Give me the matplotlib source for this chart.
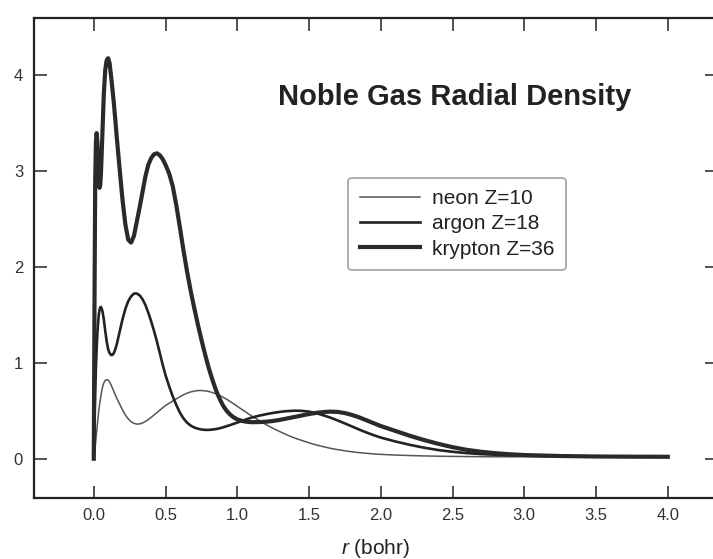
import matplotlib
matplotlib.use('Agg')
import matplotlib.pyplot as plt

plt.rcParams['font.family'] = ['Liberation Sans', 'DejaVu Sans']
plt.rcParams['mathtext.fontset'] = 'custom'
plt.rcParams['mathtext.rm'] = 'Liberation Sans'
plt.rcParams['mathtext.it'] = 'Liberation Sans:italic'

# radius (bohr)
r = [0.0, 0.005, 0.01, 0.015, 0.02, 0.025, 0.03, 0.035, 0.04, 0.045, 0.05,
     0.06, 0.07, 0.08, 0.09, 0.10, 0.11, 0.12, 0.13, 0.14, 0.15, 0.16,
     0.18, 0.20, 0.22, 0.24, 0.26, 0.28, 0.30, 0.32, 0.34, 0.36, 0.38, 0.40,
     0.42, 0.44, 0.46, 0.48, 0.50,
     0.525, 0.55, 0.575, 0.60, 0.625, 0.65, 0.675, 0.70, 0.725, 0.75, 0.775, 0.80,
     0.825, 0.85, 0.875, 0.90, 0.925, 0.95, 0.975, 1.0, 1.025, 1.05, 1.075, 1.10,
     1.15, 1.20, 1.25, 1.30, 1.35, 1.40, 1.45, 1.50, 1.55, 1.60, 1.65, 1.70,
     1.75, 1.80, 1.85, 1.90, 1.95, 2.0,
     2.1, 2.2, 2.3, 2.4, 2.5, 2.6, 2.7, 2.8, 2.9, 3.0,
     3.25, 3.5, 3.75, 4.0]

neon = [0.0, 0.05, 0.12, 0.20, 0.28, 0.36, 0.43, 0.50, 0.56, 0.61, 0.66,
        0.74, 0.79, 0.815, 0.822, 0.82, 0.80, 0.77, 0.735, 0.70, 0.665, 0.63,
        0.57, 0.51, 0.455, 0.415, 0.385, 0.368, 0.36, 0.362, 0.372, 0.388, 0.408, 0.43,
        0.455, 0.48, 0.505, 0.53, 0.553,
        0.577, 0.60, 0.623, 0.645, 0.665, 0.682, 0.695, 0.704, 0.709, 0.71, 0.707, 0.70,
        0.69, 0.676, 0.66, 0.64, 0.62, 0.596, 0.571, 0.546, 0.52, 0.495, 0.47, 0.445,
        0.40, 0.355, 0.315, 0.28, 0.245, 0.215, 0.19, 0.165, 0.143, 0.125, 0.108, 0.094,
        0.082, 0.072, 0.063, 0.056, 0.05, 0.045,
        0.038, 0.033, 0.029, 0.026, 0.024, 0.022, 0.021, 0.02, 0.02, 0.02,
        0.02, 0.02, 0.02, 0.02]

argon = [0.0, 0.35, 0.7, 0.95, 1.15, 1.3, 1.42, 1.5, 1.55, 1.575, 1.58,
         1.54, 1.45, 1.33, 1.22, 1.14, 1.10, 1.08, 1.08, 1.10, 1.14, 1.19,
         1.32, 1.45, 1.56, 1.64, 1.69, 1.72, 1.72, 1.70, 1.66, 1.60, 1.52, 1.43,
         1.33, 1.22, 1.10, 0.98, 0.87,
         0.755, 0.65, 0.56, 0.48, 0.42, 0.375, 0.345, 0.325, 0.312, 0.304, 0.30, 0.30,
         0.303, 0.308, 0.316, 0.326, 0.338, 0.35, 0.363, 0.376, 0.39, 0.403, 0.416, 0.428,
         0.447, 0.463, 0.477, 0.488, 0.496, 0.50, 0.498, 0.49, 0.474, 0.452, 0.427, 0.398,
         0.367, 0.335, 0.303, 0.273, 0.245, 0.22,
         0.18, 0.145, 0.115, 0.09, 0.072, 0.058, 0.048, 0.041, 0.036, 0.032,
         0.026, 0.022, 0.021, 0.02]

krypton = [0.0, 1.6, 2.9, 3.3, 3.39, 3.3, 3.1, 2.9, 2.82, 2.85, 2.97,
           3.38, 3.8, 4.05, 4.15, 4.17, 4.12, 3.99, 3.85, 3.70, 3.53, 3.35,
           3.02, 2.70, 2.44, 2.28, 2.25, 2.32, 2.47, 2.62, 2.78, 2.94, 3.06, 3.13,
           3.17, 3.18, 3.16, 3.12, 3.06,
           2.97, 2.84, 2.64, 2.41, 2.17, 1.95, 1.75, 1.57, 1.40, 1.24, 1.09, 0.95,
           0.83, 0.72, 0.63, 0.555, 0.50, 0.46, 0.43, 0.41, 0.397, 0.388, 0.383, 0.38,
           0.381, 0.385, 0.393, 0.405, 0.42, 0.435, 0.45, 0.465, 0.477, 0.486, 0.49, 0.487,
           0.475, 0.455, 0.43, 0.40, 0.37, 0.34,
           0.29, 0.24, 0.195, 0.155, 0.12, 0.092, 0.072, 0.057, 0.046, 0.038,
           0.028, 0.023, 0.021, 0.02]

x_ticks = [0.0, 0.5, 1.0, 1.5, 2.0, 2.5, 3.0, 3.5, 4.0]
y_ticks = [0, 1, 2, 3, 4]

fig = plt.figure(figsize=(7.13, 5.59), dpi=100)
ax = fig.add_axes([0.048, 0.109, 0.957, 0.859])

ax.plot(r, neon, color='#555555', lw=1.1, label='neon Z=10')
ax.plot(r, argon, color='#222222', lw=1.9, label='argon Z=18')
ax.plot(r, krypton, color='#2a2a2a', lw=3.0, label='krypton Z=36')

ax.set_xlim(-0.415, 4.34)
ax.set_ylim(-0.41, 4.59)
ax.set_xticks(x_ticks)
ax.set_xticklabels([f'{v:.1f}' for v in x_ticks])
ax.set_yticks(y_ticks)

ax.tick_params(direction='in', length=9, width=1.2, colors='#333333',
               labelsize=12, top=True, right=True)
ax.tick_params(axis='x', pad=7)
ax.tick_params(axis='y', pad=8)
for s in ax.spines.values():
    s.set_linewidth(1.6)
    s.set_color('#222222')

ax.text(0.616, 0.835, 'Noble Gas Radial Density', transform=ax.transAxes,
        ha='center', va='center', fontsize=21, fontweight='bold', color='#222222')

leg = ax.legend(loc='upper left', bbox_to_anchor=(0.46, 0.667), borderaxespad=0,
                fontsize=15, handlelength=2.9, frameon=True, fancybox=True,
                labelspacing=0.3, handletextpad=0.6, borderpad=0.55)
leg.get_frame().set_edgecolor('#888888')
leg.get_frame().set_linewidth(1.2)
for t in leg.get_texts():
    t.set_color('#222222')

ax.set_xlabel('$r$ (bohr)', fontsize=15, labelpad=10, color='#222222')

fig.savefig('out.png', dpi=100)
